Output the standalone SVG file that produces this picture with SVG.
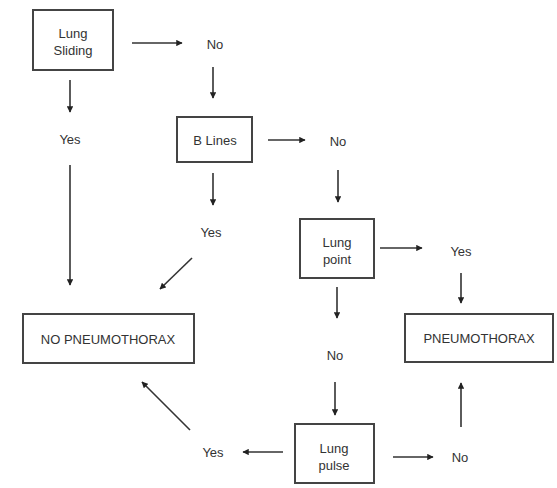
<svg xmlns="http://www.w3.org/2000/svg" width="557" height="488" viewBox="0 0 557 488">
<style>
.box{fill:#fff;stroke:#444;stroke-width:2}
text{font-family:"Liberation Sans",Arial,sans-serif;font-size:13px;fill:#333;text-anchor:middle;dominant-baseline:central}
.c line{stroke:#333;stroke-width:1.6;marker-end:url(#ah)}
</style>
<defs>
<marker id="ah" viewBox="0 0 10 10" refX="9" refY="5" markerWidth="4" markerHeight="4" orient="auto" markerUnits="strokeWidth">
<path d="M0,0 L10,5 L0,10 z" fill="#222"/>
</marker>
</defs>
<rect width="557" height="488" fill="#fff"/>
<g id="lung-sliding"><rect class="box" x="33" y="10" width="80" height="60"/><text x="73" y="33">Lung</text><text x="73" y="50">Sliding</text></g>
<g id="no1"><text x="215" y="44">No</text></g>
<g id="yes1"><text x="70" y="139">Yes</text></g>
<g id="b-lines"><rect class="box" x="177" y="117" width="75" height="45"/><text x="215" y="140">B Lines</text></g>
<g id="no2"><text x="338" y="141">No</text></g>
<g id="yes2"><text x="211" y="232">Yes</text></g>
<g id="lung-point"><rect class="box" x="300" y="219" width="74" height="59"/><text x="337" y="242">Lung</text><text x="337" y="259">point</text></g>
<g id="yes3"><text x="461" y="251">Yes</text></g>
<g id="no-pneumothorax"><rect class="box" x="23" y="314" width="171" height="49"/><text x="108" y="339">NO PNEUMOTHORAX</text></g>
<g id="pneumothorax"><rect class="box" x="405" y="314" width="148" height="48"/><text x="479" y="338">PNEUMOTHORAX</text></g>
<g id="no3"><text x="335" y="355">No</text></g>
<g id="lung-pulse"><rect class="box" x="295" y="424" width="79" height="59"/><text x="334" y="448">Lung</text><text x="334" y="465">pulse</text></g>
<g id="yes4"><text x="213" y="452">Yes</text></g>
<g id="no4"><text x="460" y="457">No</text></g>
<g id="connectors" class="c">
<line x1="132" y1="43" x2="182" y2="43"/>
<line x1="213" y1="67" x2="213" y2="98"/>
<line x1="70" y1="80" x2="70" y2="112"/>
<line x1="70" y1="165" x2="70" y2="285"/>
<line x1="213" y1="173" x2="213" y2="205"/>
<line x1="268" y1="140" x2="305" y2="140"/>
<line x1="338" y1="170" x2="338" y2="202"/>
<line x1="192" y1="258" x2="160" y2="289"/>
<line x1="380" y1="248" x2="422" y2="248"/>
<line x1="461" y1="273" x2="461" y2="303"/>
<line x1="337" y1="287" x2="337" y2="318"/>
<line x1="335" y1="382" x2="335" y2="415"/>
<line x1="393" y1="457" x2="433" y2="457"/>
<line x1="461" y1="427" x2="461" y2="383"/>
<line x1="283" y1="452" x2="243" y2="452"/>
<line x1="190" y1="430" x2="142" y2="382"/>
</g>
</svg>
